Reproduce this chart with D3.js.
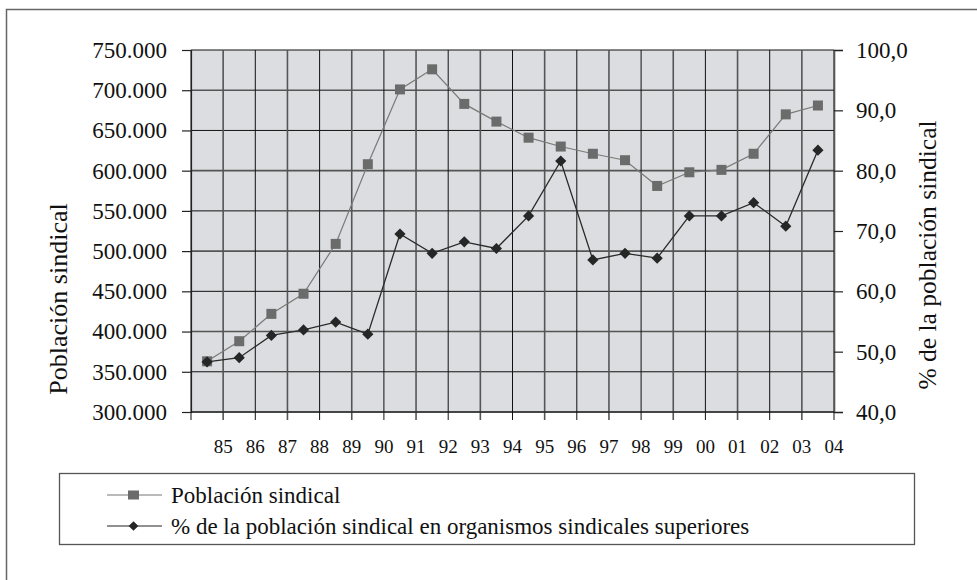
<!DOCTYPE html>
<html>
<head>
<meta charset="utf-8">
<script src="https://cdn.jsdelivr.net/npm/d3@7"></script>
<style>
  body { margin: 0; background: #fff; }
</style>
</head>
<body>
<script>
let years = ['85', '86', '87', '88', '89', '90', '91', '92', '93', '94',
  '95', '96', '97', '98', '99', '00', '01', '02', '03', '04']
let poblacion = [363000, 388000, 422000, 447000, 509000, 608000, 701000, 726000, 683000, 661000,
  641000, 630000, 621000, 613000, 581000, 598000, 601000, 621000, 670000, 681000]
let porcentaje = [48.3, 49.0, 52.7, 53.6, 54.9, 52.9, 69.5, 66.3, 68.2, 67.1,
  72.5, 81.6, 65.2, 66.3, 65.5, 72.5, 72.5, 74.7, 70.8, 83.4]
let leftTicks = [300000, 350000, 400000, 450000, 500000, 550000, 600000, 650000, 700000, 750000]
let rightTicks = [40, 50, 60, 70, 80, 90, 100]
let seriesNames = ['Población sindical', '% de la población sindical en organismos sindicales superiores']

const SERIF = '"Liberation Serif", "DejaVu Serif", "Times New Roman", serif'

renderChart()

function renderChart() {
  let width = 977
  let height = 580
  let left = 191, right = 834, top = 50, bottom = 412

  let loc = d3.formatLocale({ decimal: ',', thousands: '.', grouping: [3], currency: ['', ''] })
  let fmtLeft = loc.format(',.0f')
  let fmtRight = loc.format('.1f')

  let x = d3.scaleBand().domain(years).range([left, right]).padding(0)
  let yL = d3.scaleLinear().domain([300000, 750000]).range([bottom, top])
  let yR = d3.scaleLinear().domain([40, 100]).range([bottom, top])

  let svg = d3.select('body').append('svg').attr('width', width).attr('height', height)
    .style('font-family', SERIF)

  // outer frame
  svg.append('rect')
    .attr('x', 6.5).attr('y', 9.5).attr('width', 1000).attr('height', 700)
    .attr('fill', 'none').attr('stroke', '#666').attr('stroke-width', 1.5)

  // plot background
  svg.append('rect')
    .attr('x', left).attr('y', top).attr('width', right - left).attr('height', bottom - top)
    .attr('fill', '#dcdde0')

  // horizontal grid
  svg.append('g').selectAll('line')
    .data(leftTicks)
    .enter()
    .append('line')
    .attr('x1', left).attr('x2', right)
    .attr('y1', d => yL(d)).attr('y2', d => yL(d))
    .attr('stroke', (d, i) => i % 2 ? '#111' : '#555')
    .attr('stroke-width', (d, i) => i % 2 ? 1 : 1.6)

  // vertical grid (band edges), extending below the plot as ticks
  let edges = [left].concat(years.map(d => x(d) + x.bandwidth()))
  svg.append('g').selectAll('line')
    .data(edges)
    .enter()
    .append('line')
    .attr('x1', d => d).attr('x2', d => d)
    .attr('y1', top).attr('y2', bottom + 8)
    .attr('stroke', (d, i) => i % 2 ? '#555' : '#111')
    .attr('stroke-width', (d, i) => i % 2 ? 1.6 : 1)

  // left axis
  let gl = svg.append('g')
    .attr('transform', `translate(${left},0)`)
    .call(d3.axisLeft(yL).tickValues(leftTicks).tickFormat(fmtLeft).tickSize(9).tickPadding(15))
  gl.attr('font-family', null).attr('font-size', null)
  gl.select('.domain').attr('stroke', '#222').attr('stroke-width', 1.2)
  gl.selectAll('.tick line').attr('stroke', '#222').attr('stroke-width', 1.2)
  gl.selectAll('.tick text').style('font-family', SERIF).style('font-size', '23px').attr('fill', '#111')

  // right axis
  let gr = svg.append('g')
    .attr('transform', `translate(${right},0)`)
    .call(d3.axisRight(yR).tickValues(rightTicks).tickFormat(fmtRight).tickSize(9).tickPadding(13))
  gr.attr('font-family', null).attr('font-size', null)
  gr.select('.domain').attr('stroke', '#555').attr('stroke-width', 1.6)
  gr.selectAll('.tick line').attr('stroke', '#222').attr('stroke-width', 1.2)
  gr.selectAll('.tick text').style('font-family', SERIF).style('font-size', '23px').attr('fill', '#111')

  // bottom line
  svg.append('line')
    .attr('x1', left).attr('x2', right).attr('y1', bottom).attr('y2', bottom)
    .attr('stroke', '#111').attr('stroke-width', 1.2)

  // x labels at right edge of each band
  svg.append('g').selectAll('text')
    .data(years)
    .enter()
    .append('text')
    .attr('x', d => x(d) + x.bandwidth())
    .attr('y', 453)
    .attr('text-anchor', 'middle')
    .style('font-family', SERIF)
    .style('font-size', '19px')
    .attr('fill', '#111')
    .text(d => d)

  // axis titles
  svg.append('text')
    .attr('transform', 'translate(67,299) rotate(-90)')
    .attr('text-anchor', 'middle')
    .style('font-family', SERIF)
    .style('font-size', '26px')
    .attr('fill', '#111')
    .text('Población sindical')
  svg.append('text')
    .attr('transform', 'translate(936,255) rotate(-90)')
    .attr('text-anchor', 'middle')
    .style('font-family', SERIF)
    .style('font-size', '25.5px')
    .attr('fill', '#111')
    .text('% de la población sindical')

  let cx = (d, i) => x(years[i]) + x.bandwidth() / 2

  // población line + squares
  let lineL = d3.line().x((d, i) => cx(d, i)).y(d => yL(d))
  svg.append('path')
    .attr('fill', 'none').attr('stroke', '#7a7a7a').attr('stroke-width', 1.2)
    .attr('d', lineL(poblacion))
  svg.append('g').selectAll('rect')
    .data(poblacion)
    .enter()
    .append('rect')
    .attr('x', (d, i) => cx(d, i) - 5)
    .attr('y', d => yL(d) - 5)
    .attr('width', 10).attr('height', 10)
    .attr('fill', '#6b6b6b')

  // porcentaje line + diamonds
  let lineR = d3.line().x((d, i) => cx(d, i)).y(d => yR(d))
  svg.append('path')
    .attr('fill', 'none').attr('stroke', '#2a2a2a').attr('stroke-width', 1.3)
    .attr('d', lineR(porcentaje))
  let diamond = d3.symbol().type(d3.symbolDiamond2).size(80)
  svg.append('g').selectAll('path')
    .data(porcentaje)
    .enter()
    .append('path')
    .attr('transform', (d, i) => `translate(${cx(d, i)},${yR(d)})`)
    .attr('d', diamond)
    .attr('fill', '#262626')

  // legend
  svg.append('rect')
    .attr('x', 59.5).attr('y', 473.5).attr('width', 855).attr('height', 71)
    .attr('fill', 'none').attr('stroke', '#555').attr('stroke-width', 1.3)

  let lg = svg.append('g')
  let rows = [495, 526]
  rows.forEach((y, i) => {
    lg.append('line')
      .attr('x1', 107).attr('x2', 162).attr('y1', y).attr('y2', y)
      .attr('stroke', i ? '#222' : '#777').attr('stroke-width', 1.2)
    if (i === 0) {
      lg.append('rect').attr('x', 128).attr('y', y - 4.5).attr('width', 11).attr('height', 9).attr('fill', '#6b6b6b')
    } else {
      lg.append('path')
        .attr('transform', `translate(133.5,${y})`)
        .attr('d', d3.symbol().type(d3.symbolDiamond2).size(60))
        .attr('fill', '#262626')
    }
    lg.append('text')
      .attr('x', 171).attr('y', y + 8)
      .style('font-family', SERIF)
      .style('font-size', '23px')
      .attr('fill', '#111')
      .text(seriesNames[i])
  })
}
</script>
</body>
</html>
